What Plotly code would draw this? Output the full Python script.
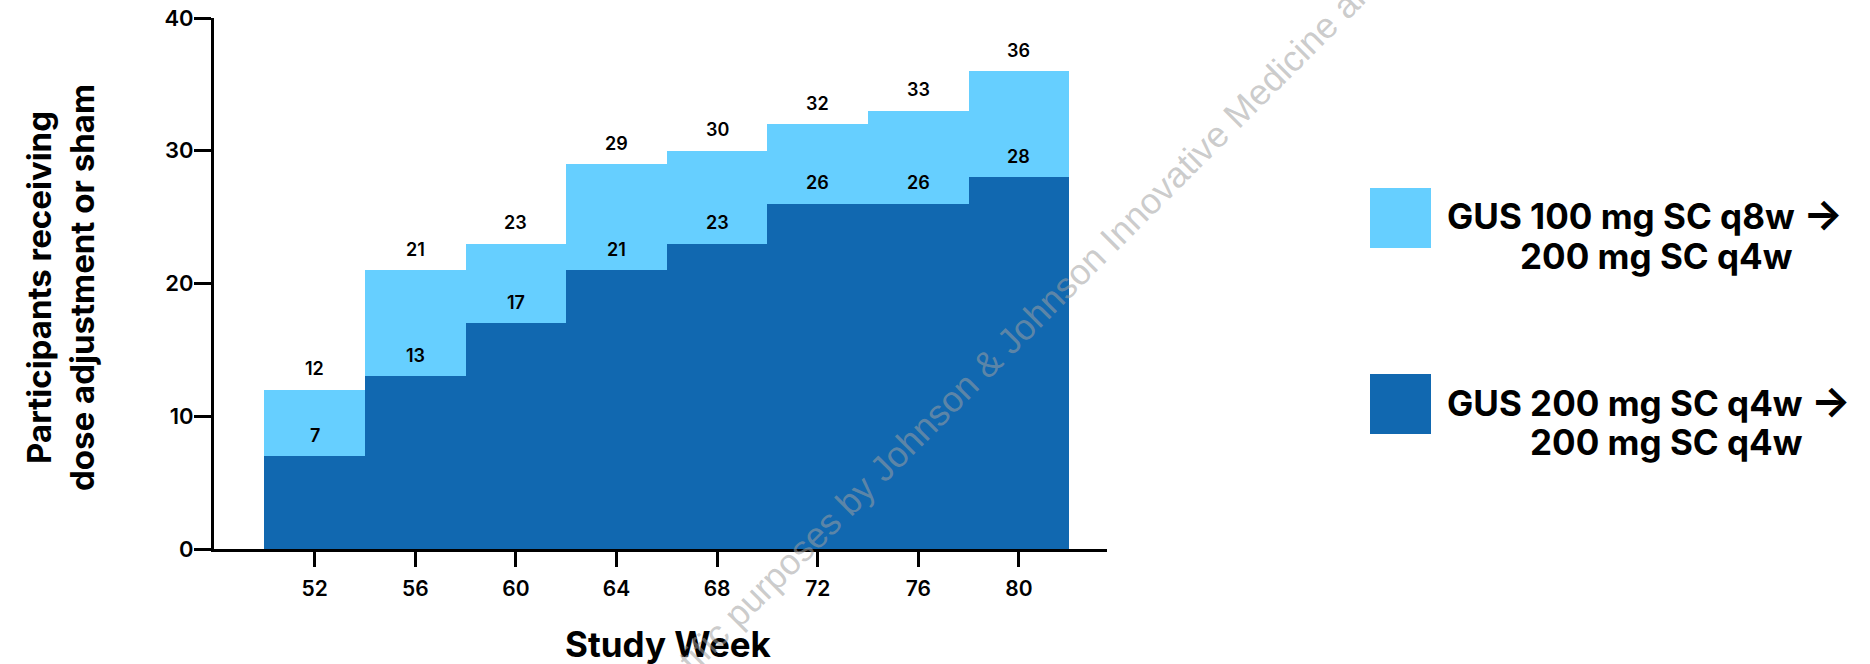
import plotly.graph_objects as go

# Study weeks and participant counts
weeks = [52, 56, 60, 64, 68, 72, 76, 80]
total_counts = [12, 21, 23, 29, 30, 32, 33, 36]   # both arms combined (top of light step)
gus200_counts = [7, 13, 17, 21, 23, 26, 26, 28]    # GUS 200 mg SC q4w arm (dark step)
y_ticks = [0, 10, 20, 30, 40]

legend_light = ["GUS 100 mg SC q8w", "200 mg SC q4w"]
legend_dark = ["GUS 200 mg SC q4w", "200 mg SC q4w"]
ARROW = "\u2192"

LIGHT = "#66CFFF"
DARK = "#1168B0"
FONT = "Inter"

W, H = 1870, 664
L, R, T, B = 214, 763, 18, 115
PW, PH = W - L - R, H - T - B


def px(xp):
    return (xp - L) / PW


def py(yp):
    return (H - B - yp) / PH


fig = go.Figure()
fig.add_trace(go.Bar(x=weeks, y=total_counts, width=4, marker=dict(color=LIGHT, line=dict(width=0)),
                     name=" ".join(legend_light), showlegend=False))
fig.add_trace(go.Bar(x=weeks, y=gus200_counts, width=4, marker=dict(color=DARK, line=dict(width=0)),
                     name=" ".join(legend_dark), showlegend=False))

annotations = []
for w, t, d in zip(weeks, total_counts, gus200_counts):
    for v in (t, d):
        annotations.append(dict(x=w, y=v, xref="x", yref="y", text=str(v), showarrow=False,
                                yanchor="middle", yshift=21,
                                font=dict(family=FONT, size=18, color="black", weight=600)))

# axis titles
annotations.append(dict(x=px(60), y=py(288), xref="paper", yref="paper",
                        text="Participants receiving<br>dose adjustment or sham",
                        textangle=-90, showarrow=False, xanchor="center", yanchor="middle",
                        font=dict(family=FONT, size=33, color="black", weight=700)))
annotations.append(dict(x=px(668), y=py(644), xref="paper", yref="paper", text="Study Week",
                        showarrow=False, xanchor="center", yanchor="middle",
                        font=dict(family=FONT, size=35, color="black", weight=700)))

# legend text
arrow = '<span style="font-size:42px">' + ARROW + '</span>'
for lines, y1, y2, x2 in ((legend_light, 214, 256, 1518), (legend_dark, 400, 442, 1528)):
    annotations.append(dict(x=px(1445), y=py(y1), xref="paper", yref="paper",
                            text=lines[0] + " " + arrow,
                            showarrow=False, xanchor="left", yanchor="middle",
                            font=dict(family=FONT, size=35, color="black", weight=700)))
    annotations.append(dict(x=px(x2), y=py(y2), xref="paper", yref="paper", text=lines[1],
                            showarrow=False, xanchor="left", yanchor="middle",
                            font=dict(family=FONT, size=35, color="black", weight=700)))

# watermark
annotations.append(dict(x=px(980), y=py(370), xref="paper", yref="paper",
                        text="For scientific purposes by Johnson &amp; Johnson Innovative Medicine and",
                        textangle=-45, showarrow=False, xanchor="center", yanchor="middle",
                        font=dict(family="Liberation Sans, Arial", size=36, color="rgba(160,160,160,0.55)")))

shapes = []
for color, y0, y1 in ((LIGHT, 188, 248), (DARK, 374, 434)):
    shapes.append(dict(type="rect", xref="paper", yref="paper", x0=px(1370), x1=px(1431),
                       y0=py(y1), y1=py(y0), fillcolor=color, line=dict(width=0)))

fig.update_layout(
    width=W, height=H,
    margin=dict(l=L, r=R, t=T, b=B, autoexpand=False),
    paper_bgcolor="white", plot_bgcolor="white",
    barmode="overlay", bargap=0,
    showlegend=False,
    annotations=annotations,
    shapes=shapes,
    xaxis=dict(range=[48, 83.5], tickvals=weeks, ticktext=[str(w) for w in weeks],
               ticks="outside", ticklen=15, tickwidth=3, tickcolor="black",
               showline=True, linewidth=3, linecolor="black", showgrid=False, zeroline=False,
               ticklabelstandoff=4, automargin=False,
               tickfont=dict(family=FONT, size=21, color="black", weight=600)),
    yaxis=dict(range=[0, 40], tickvals=y_ticks, ticks="outside", ticklen=17, tickwidth=3,
               tickcolor="black", showline=True, linewidth=3, linecolor="black",
               showgrid=False, zeroline=False, automargin=False, ticklabelstandoff=-4,
               tickfont=dict(family=FONT, size=22, color="black", weight=600)),
)

fig.write_html("out.html")
